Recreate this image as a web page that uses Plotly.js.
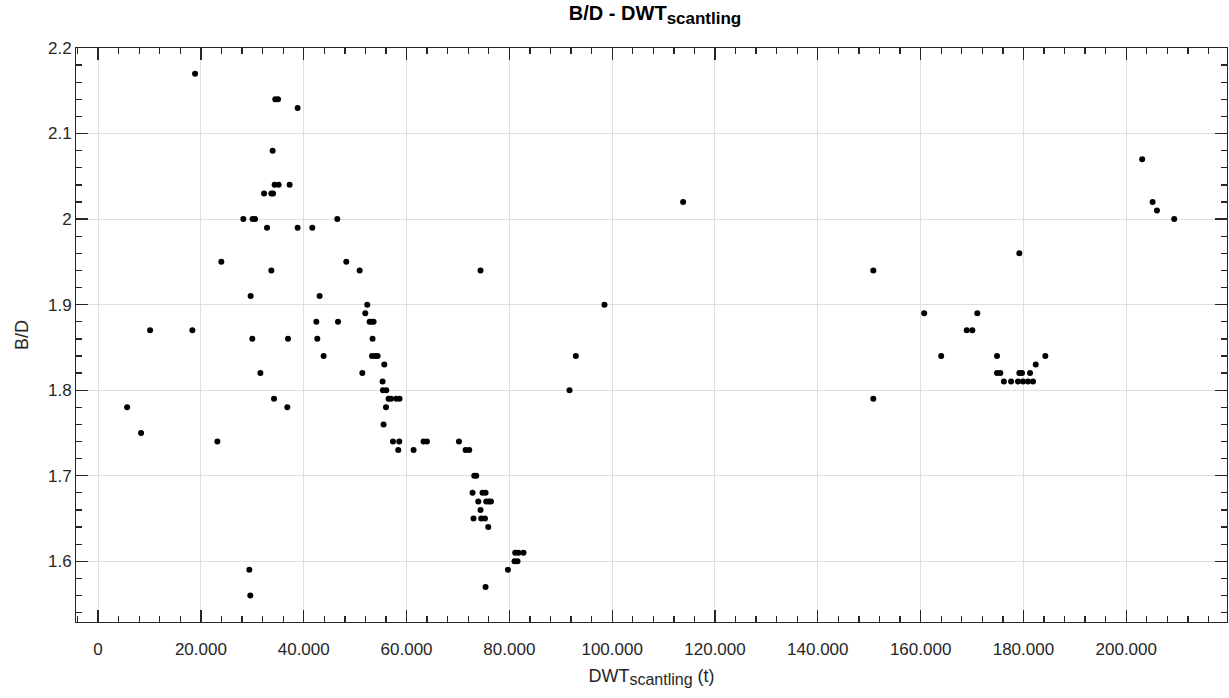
<!DOCTYPE html>
<html>
<head>
<meta charset="utf-8">
<script src="https://cdn.plot.ly/plotly-3.0.1.min.js"></script>
<style>
  html, body { margin: 0; padding: 0; background: #fff; }
  #chart { width: 1229px; height: 698px; }
</style>
</head>
<body>
<div id="chart"></div>
<script>
// Deadweight (scantling draught) in tonnes
const dwtScantling = [
  5640, 8360, 10110, 18340, 18860, 23200, 23970, 28250, 29420, 29610,
  29670, 30060, 30530, 30000, 31560, 32280, 32860, 33700, 34030, 33700,
  33950, 34220, 34340, 35120, 34470, 35000, 36810, 36940, 37260, 38810,
  38810, 41670, 42450, 42640, 43090, 43870, 46530, 46670, 48280, 50870,
  51400, 51970, 52360, 52810, 53200, 53590, 53390, 53280, 53920, 54370,
  55670, 55340, 55410, 56060, 56500, 56970, 58000, 58640, 56000, 55530,
  57360, 58580, 58390, 61370, 63310, 63970, 70190, 71480, 72200, 73170,
  73560, 72840, 74780, 75370, 73950, 75500, 76030, 76420, 74390, 73030,
  74530, 75250, 75890, 75370, 74390, 79720, 81000, 81590, 81140, 81780,
  82750, 91700, 92940, 98500, 113800, 150800, 150800, 160700, 164000, 168970,
  170060, 171030, 174860, 174860, 175500, 179200, 179720, 181280, 176200, 177600,
  178940, 179920, 180890, 181860, 179200, 182390, 184260, 203100, 205130, 205970,
  209330
];

// Breadth / depth ratio
const breadthDepth = [
  1.78, 1.75, 1.87, 1.87, 2.17, 1.74, 1.95, 2.00, 1.59, 1.56,
  1.91, 2.00, 2.00, 1.86, 1.82, 2.03, 1.99, 2.03, 2.03, 1.94,
  2.08, 1.79, 2.04, 2.04, 2.14, 2.14, 1.78, 1.86, 2.04, 2.13,
  1.99, 1.99, 1.88, 1.86, 1.91, 1.84, 2.00, 1.88, 1.95, 1.94,
  1.82, 1.89, 1.90, 1.88, 1.88, 1.88, 1.86, 1.84, 1.84, 1.84,
  1.83, 1.81, 1.80, 1.80, 1.79, 1.79, 1.79, 1.79, 1.78, 1.76,
  1.74, 1.74, 1.73, 1.73, 1.74, 1.74, 1.74, 1.73, 1.73, 1.70,
  1.70, 1.68, 1.68, 1.68, 1.67, 1.67, 1.67, 1.67, 1.66, 1.65,
  1.65, 1.65, 1.64, 1.57, 1.94, 1.59, 1.60, 1.60, 1.61, 1.61,
  1.61, 1.80, 1.84, 1.90, 2.02, 1.94, 1.79, 1.89, 1.84, 1.87,
  1.87, 1.89, 1.84, 1.82, 1.82, 1.82, 1.82, 1.82, 1.81, 1.81,
  1.81, 1.81, 1.81, 1.81, 1.96, 1.83, 1.84, 2.07, 2.02, 2.01,
  2.00
];

// Axis tick labels
const xTickVals = [0, 20000, 40000, 60000, 80000, 100000, 120000, 140000, 160000, 180000, 200000];
const xTickText = ['0', '20.000', '40.000', '60.000', '80.000', '100.000', '120.000', '140.000', '160.000', '180.000', '200.000'];
const yTickVals = [1.6, 1.7, 1.8, 1.9, 2.0, 2.1, 2.2];
const yTickText = ['1.6', '1.7', '1.8', '1.9', '2', '2.1', '2.2'];

const FONT = 'Liberation Sans, Arial, sans-serif';
const INK = '#262626';

const trace = {
  type: 'scatter',
  mode: 'markers',
  x: dwtScantling,
  y: breadthDepth,
  marker: { color: '#000000', size: 6 },
  hoverinfo: 'x+y'
};

const axisCommon = {
  showline: true,
  linecolor: INK,
  linewidth: 1,
  mirror: 'allticks',
  ticks: 'inside',
  ticklen: 12,
  tickwidth: 1.3,
  tickcolor: INK,
  showgrid: true,
  gridcolor: '#dfdfdf',
  gridwidth: 1,
  zeroline: false,
  tickfont: { family: FONT, size: 17, color: INK }
};

const layout = {
  width: 1229,
  height: 698,
  margin: { l: 76, r: 2, t: 48, b: 76 },
  paper_bgcolor: '#ffffff',
  plot_bgcolor: '#ffffff',
  showlegend: false,
  title: {
    text: '<b>B/D - DWT<sub><span style="font-size:17px">scantling</span></sub></b>',
    font: { family: FONT, size: 20, color: '#000000' },
    x: 0.533, xanchor: 'center',
    y: 0.992, yanchor: 'top'
  },
  xaxis: Object.assign({}, axisCommon, {
    range: [-4300, 219600],
    tickmode: 'array',
    tickvals: xTickVals,
    ticktext: xTickText,
    ticklabelstandoff: 12,
    minor: { dtick: 4000, tick0: 0, ticks: 'inside', ticklen: 6, tickwidth: 1.3, tickcolor: INK, showgrid: false },
    title: {
      text: 'DWT<sub><span style="font-size:16px">scantling</span></sub> (t)',
      font: { family: FONT, size: 18, color: INK },
      standoff: 10
    }
  }),
  yaxis: Object.assign({}, axisCommon, {
    range: [1.529, 2.2],
    tickmode: 'array',
    tickvals: yTickVals,
    ticktext: yTickText,
    minor: { dtick: 0.02, tick0: 1.5, ticks: 'inside', ticklen: 6, tickwidth: 1.3, tickcolor: INK, showgrid: false },
    title: { text: 'B/D', font: { family: FONT, size: 18, color: INK }, standoff: 14 }
  })
};

Plotly.newPlot('chart', [trace], layout, { displayModeBar: false, staticPlot: true });
</script>
</body>
</html>
